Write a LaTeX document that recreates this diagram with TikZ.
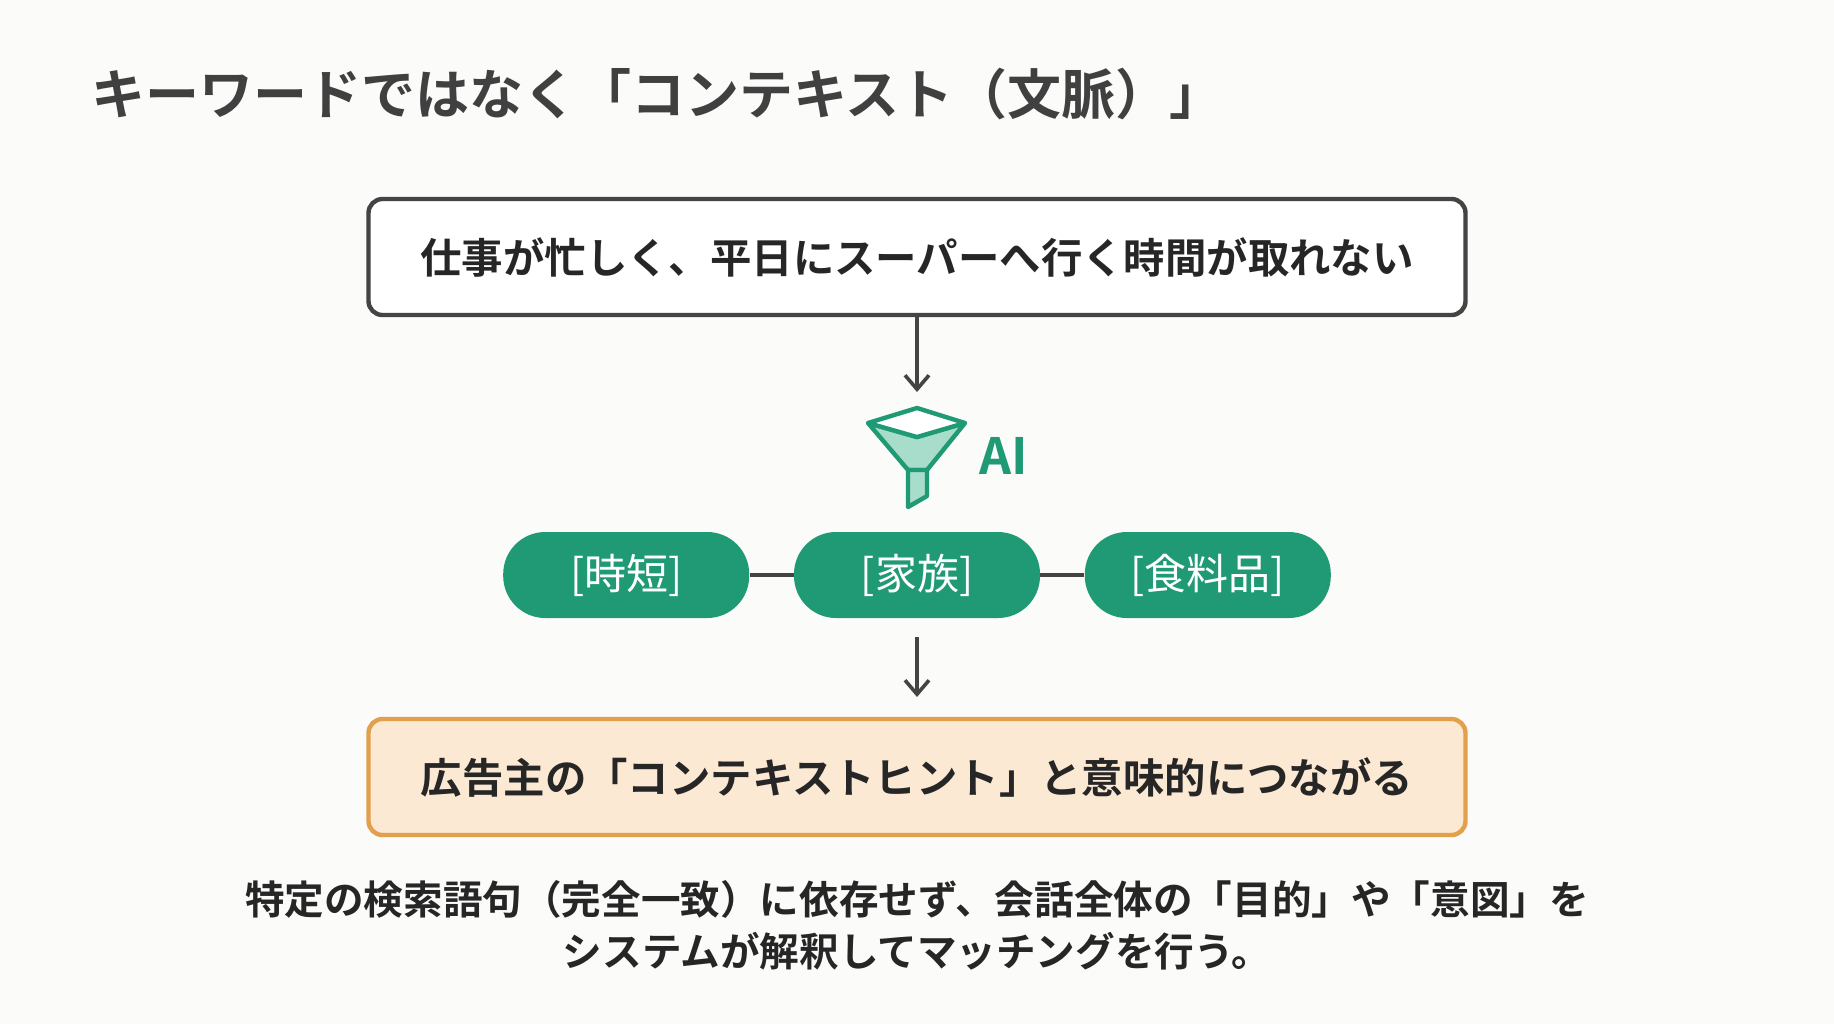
\documentclass[tikz,border=0pt]{standalone}
\usepackage{fontspec}
\setmainfont{Noto Sans CJK JP}[BoldFont={* Bold}]
\usetikzlibrary{positioning,arrows.meta}
\definecolor{bgc}{HTML}{FBFBFA}
\definecolor{aigreen}{HTML}{1F9A74}
\definecolor{aipale}{HTML}{A8DCCB}
\definecolor{ink}{HTML}{444444}
\definecolor{hintfill}{HTML}{FCE9D3}
\definecolor{hintline}{HTML}{E3A04C}
\tikzset{
  panel/.style={draw, line width=2.2pt, rounded corners=7pt, minimum width=548.5pt, minimum height=58pt, font=\bfseries\fontsize{20.7}{25}\selectfont, text=black!85},
  tag/.style={fill=aigreen, rounded corners=21pt, minimum width=123pt, minimum height=43pt, text=white, font=\fontsize{21}{25}\selectfont},
  flow/.style={-{Straight Barb[length=7pt,width=12pt]}, line width=1.8pt, ink},
}
\begin{document}
\begin{tikzpicture}[x=0.5pt,y=-0.5pt]
  \fill[bgc] (0,0) rectangle (1834,1024);
  \useasboundingbox (0,0) rectangle (1834,1024);

  % title
  \node[anchor=west, text=black!75, font=\bfseries\fontsize{27}{32}\selectfont] (title) at (84,94) {キーワードではなく「コンテキスト（文脈）」};

  % user utterance
  \node[panel, draw=ink, fill=white] (query) at (917,257) {仕事が忙しく、平日にスーパーへ行く時間が取れない};

  % AI funnel icon
  \coordinate (fin) at (917,392);
  \begin{scope}[line width=2.2pt, draw=aigreen, line join=round]
    \filldraw[fill=aipale] (868,423) -- (917,437) -- (965,423) -- (927,470) -- (908,470) -- cycle;
    \filldraw[fill=white] (868,423) -- (917,408) -- (965,423) -- (917,437) -- cycle;
    \filldraw[fill=aipale] (908,470) -- (927,470) -- (927,496) -- (908,507) -- cycle;
  \end{scope}
  \node[anchor=west, text=aigreen, font=\bfseries\fontsize{25}{30}\selectfont] (ai) at (972,456) {AI};

  % extracted context tags
  \node[tag] (kw2) at (917,575) {[家族]};
  \node[tag, left=22pt of kw2] (kw1) {[時短]};
  \node[tag, right=22pt of kw2] (kw3) {[食料品]};
  \draw[line width=2.2pt, ink] (kw1) -- (kw2) (kw2) -- (kw3);

  % advertiser hint
  \node[panel, draw=hintline, fill=hintfill] (hint) at (917,777) {広告主の「コンテキストヒント」と意味的につながる};

  \coordinate (kwout) at (917,637);
  \coordinate (hintin) at (917,697);
  \draw[flow] (query) -- (fin);
  \draw[flow] (kwout) -- (hintin);

  % footnote
  \node[align=center, text=black!85, font=\bfseries\fontsize{19.8}{26}\selectfont] (note) at (917,925)
    {特定の検索語句（完全一致）に依存せず、会話全体の「目的」や「意図」を\\システムが解釈してマッチングを行う。};
\end{tikzpicture}
\end{document}
